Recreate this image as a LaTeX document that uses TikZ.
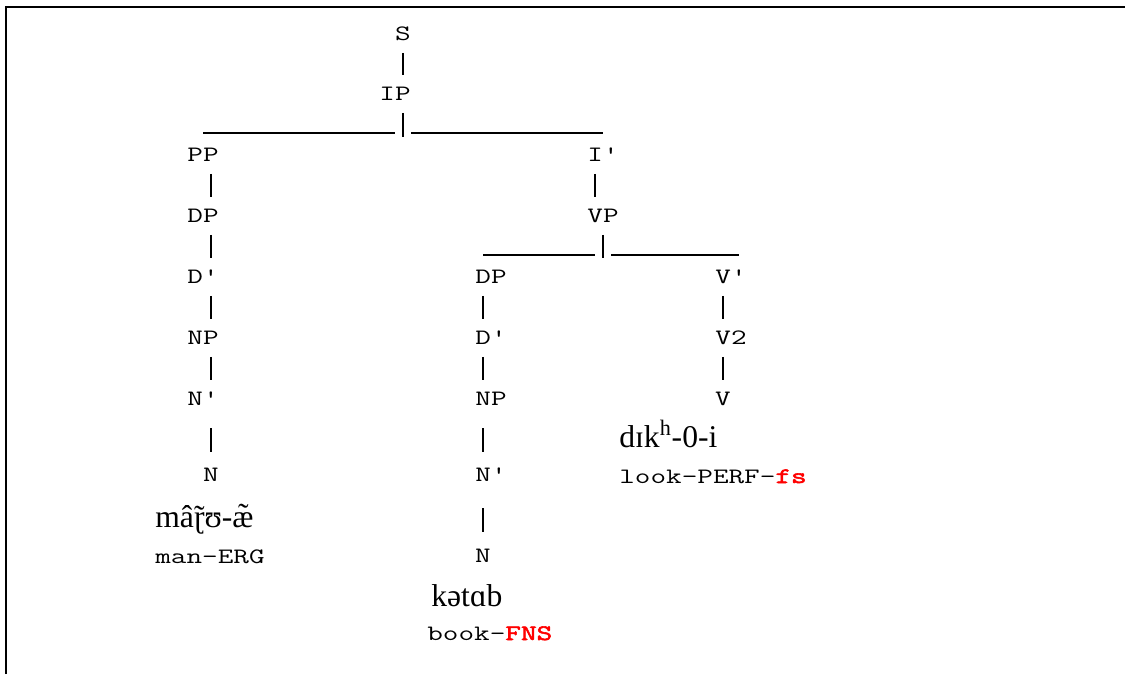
\documentclass[tikz,border=0pt]{standalone}
\usepackage{fontspec}
\setmainfont{Liberation Serif}
\newfontfamily\catfont{lmmono12-regular}[Extension=.otf,FakeStretch=1.38]
\newfontfamily\featfont{lmmono12-regular}[Extension=.otf,FakeStretch=1.38,FakeBold=2.5]

\tikzset{
  cat/.style={font=\catfont\fontsize{12.5}{14}\selectfont,inner sep=0pt,text height=7.6pt,text depth=0pt},
  word/.style={font=\fontsize{18}{20}\selectfont,inner sep=0pt,anchor=base west},
  gloss/.style={font=\catfont\fontsize{12.5}{14}\selectfont,inner sep=0pt,anchor=base west},
  edge/.style={line width=0.7pt,shorten <=6.7pt,shorten >=6.7pt},
  rule/.style={line width=0.7pt},
  frame/.style={line width=1.2pt}
}
\newcommand{\feat}[1]{\textcolor{red}{\featfont #1}}

\begin{document}
\begin{tikzpicture}[x=0.02cm,y=-0.02cm]
  \useasboundingbox (0,0) rectangle (1125,674);
  \draw[frame] (6,674) -- (6,7) -- (1125,7);

  % spine
  \node[cat] (S) at (403,34) {S};
  \node[cat] (IP) at (395,94) {IP};
  \node[cat] (PP) at (203,155) {PP};
  \node[cat] (Ib) at (603,155) {I'};

  % subject
  \node[cat] (DP1) at (203,216) {DP};
  \node[cat] (Db1) at (203,277) {D'};
  \node[cat] (NP1) at (203,338) {NP};
  \node[cat] (Nb1) at (203,399) {N'};
  \node[cat] (N1) at (211,475) {N};

  % object
  \node[cat] (VP) at (603,216) {VP};
  \node[cat] (DP2) at (491,277) {DP};
  \node[cat] (Db2) at (491,338) {D'};
  \node[cat] (NP2) at (491,399) {NP};
  \node[cat] (Nb2) at (491,475) {N'};
  \node[cat] (N2) at (483,556) {N};

  % verb
  \node[cat] (Vb) at (731,277) {V'};
  \node[cat] (V2) at (731,338) {V2};
  \node[cat] (V) at (723,399) {V};

  % words and glosses
  \node[word] (w1) at (155,527) {mâ\accent"02DC ɽʊ-æ̃};
  \node[gloss] (g1) at (155,563) {man-ERG};
  \node[word] (w2) at (431,606) {kətɑb};
  \node[gloss] (g2) at (427,640) {book-\feat{FNS}};
  \node[word] (w3) at (619,447) {dɪk\textsuperscript{h}-0-i};
  \node[gloss] (g3) at (619,483) {look-PERF-\feat{fs}};

  % splits
  \coordinate (IPj) at (403,137);
  \coordinate (IPa) at (203,133);
  \coordinate (IPb) at (395,133);
  \coordinate (IPc) at (411,133);
  \coordinate (IPd) at (603,133);
  \coordinate (VPj) at (603,258);
  \coordinate (VPa) at (483,255);
  \coordinate (VPb) at (595,255);
  \coordinate (VPc) at (611,255);
  \coordinate (VPd) at (739,255);

  \draw[edge] (S) -- (IP.north -| S);
  \draw[edge,shorten >=0pt] (S |- IP.south) -- (IPj);
  \draw[rule] (IPa) -- (IPb);
  \draw[rule] (IPc) -- (IPd);
  \draw[edge] (Ib.south -| VPb) -- (VP.north -| VPb);
  \draw[edge,shorten >=0pt] (VP) -- (VPj);
  \draw[rule] (VPa) -- (VPb);
  \draw[rule] (VPc) -- (VPd);

  \draw[edge] (PP.south -| N1) -- (DP1.north -| N1);
  \draw[edge] (DP1.south -| N1) -- (Db1.north -| N1);
  \draw[edge] (Db1.south -| N1) -- (NP1.north -| N1);
  \draw[edge] (NP1.south -| N1) -- (Nb1.north -| N1);
  \draw[edge,shorten <=12.6pt,shorten >=9.2pt] (Nb1.south -| N1) -- (N1);

  \draw[edge] (DP2.south -| N2) -- (Db2.north -| N2);
  \draw[edge] (Db2.south -| N2) -- (NP2.north -| N2);
  \draw[edge,shorten <=12.6pt,shorten >=9.2pt] (NP2.south -| N2) -- (Nb2.north -| N2);
  \draw[edge,shorten <=14.9pt,shorten >=9.8pt] (Nb2.south -| N2) -- (N2);

  \draw[edge] (Vb.south -| V) -- (V2.north -| V);
  \draw[edge] (V2.south -| V) -- (V);
\end{tikzpicture}
\end{document}
